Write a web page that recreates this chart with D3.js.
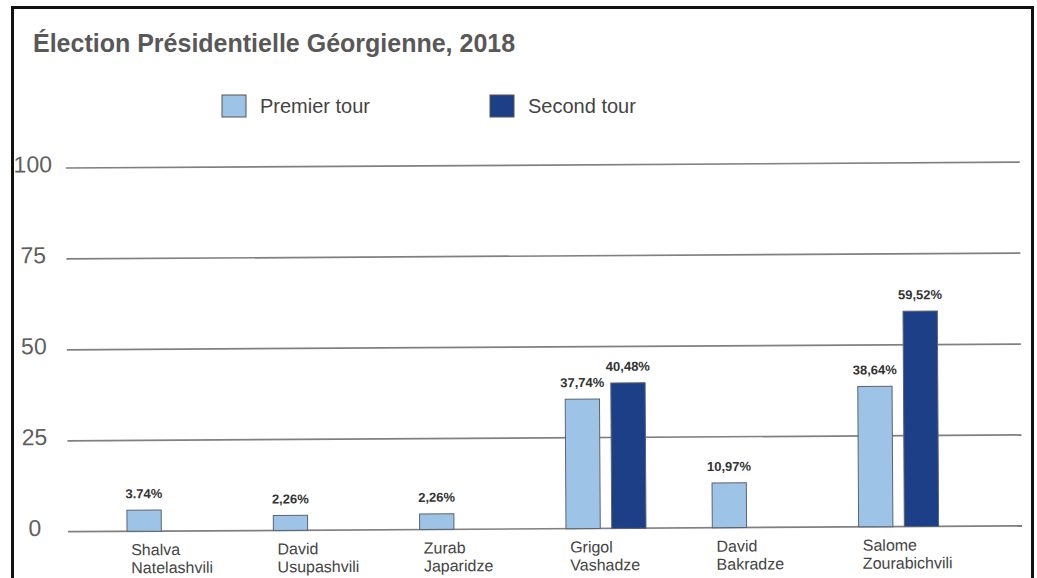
<!DOCTYPE html>
<html>
<head>
<meta charset="utf-8">
<script src="https://cdn.jsdelivr.net/npm/d3@7"></script>
<style>
  body { margin: 0; background: #fff; }
  svg { display: block; }
  text { font-family: "Liberation Sans", Arial, sans-serif; }
</style>
</head>
<body>
<div id="chart"></div>
<script>
// data
var candidates = ["Shalva Natelashvili", "David Usupashvili", "Zurab Japaridze",
                  "Grigol Vashadze", "David Bakradze", "Salome Zourabichvili"];
var premierTour = [5.8, 4.1, 4.3, 35.6, 12.3, 38.6];      // bar heights as drawn
var secondTour  = [null, null, null, 40.0, null, 59.2];
var premierLabels = ["3.74%", "2,26%", "2,26%", "37,74%", "10,97%", "38,64%"];
var secondLabels  = [null, null, null, "40,48%", null, "59,52%"];
var yTicks = [0, 25, 50, 75, 100];
var rounds = ["Premier tour", "Second tour"];
var colors = ["#9dc3e6", "#1c3f87"];

var W = 1037, H = 578;
var plot = {left: 68, right: 1022, top: 168, bottom: 531.7};

var svg = d3.select("#chart")
  .append("svg")
    .attr("width", W)
    .attr("height", H);

svg.append("rect")
  .attr("width", W).attr("height", H)
  .attr("fill", "#fff");

// frame
svg.append("rect")
  .attr("x", 12.5).attr("y", 7.5)
  .attr("width", 1020).attr("height", 620)
  .attr("fill", "none")
  .attr("stroke", "#111")
  .attr("stroke-width", 3);

// title
svg.append("text")
  .attr("x", 33).attr("y", 52)
  .attr("font-size", 25)
  .attr("font-weight", "bold")
  .attr("fill", "#585858")
  .text("Élection Présidentielle Géorgienne, 2018");

// legend
var legendX = [222, 490];
var legend = svg.selectAll(".legend")
  .data(rounds)
  .enter()
  .append("g")
    .attr("transform", function(d, i) { return "translate(" + legendX[i] + ",95)"; });
legend.append("rect")
  .attr("width", 24).attr("height", 22)
  .attr("fill", function(d, i) { return colors[i]; })
  .attr("stroke", "#555")
  .attr("stroke-width", 1);
legend.append("text")
  .attr("x", 38).attr("y", 18)
  .attr("font-size", 20)
  .attr("fill", "#444")
  .text(function(d) { return d; });

// the drawing is slightly tilted in the scan
var g = svg.append("g")
  .attr("transform", "rotate(-0.35," + plot.left + "," + plot.bottom + ")");

var x = d3.scaleBand()
  .domain(candidates)
  .range([plot.left, plot.right])
  .paddingInner(0)
  .paddingOuter(0.26);

var xRound = d3.scaleBand()
  .domain(rounds)
  .range([21, 101])
  .paddingInner(0.25);

var y = d3.scaleLinear()
  .domain([0, 100])
  .range([plot.bottom, plot.top]);

// gridlines
g.selectAll(".grid")
  .data(yTicks)
  .enter()
  .append("line")
    .attr("x1", plot.left)
    .attr("x2", plot.right)
    .attr("y1", function(d) { return y(d); })
    .attr("y2", function(d) { return y(d); })
    .attr("stroke", "#808080")
    .attr("stroke-width", 1.7);

g.selectAll(".ytick")
  .data(yTicks)
  .enter()
  .append("text")
    .attr("x", 35)
    .attr("y", function(d) { return y(d) - 2; })
    .attr("text-anchor", "middle")
    .attr("dominant-baseline", "middle")
    .attr("font-size", 23)
    .attr("fill", "#5e5e5e")
    .text(function(d) { return d; });

// bars
var bars = [];
candidates.forEach(function(c, i) {
  bars.push({name: c, round: rounds[0], value: premierTour[i], label: premierLabels[i]});
  if (secondTour[i] != null)
    bars.push({name: c, round: rounds[1], value: secondTour[i], label: secondLabels[i]});
});

var bw = xRound.bandwidth();

g.selectAll(".bar")
  .data(bars)
  .enter()
  .append("rect")
    .attr("x", function(d) { return x(d.name) + xRound(d.round); })
    .attr("y", function(d) { return y(d.value); })
    .attr("width", bw)
    .attr("height", function(d) { return y(0) - y(d.value); })
    .attr("fill", function(d) { return colors[rounds.indexOf(d.round)]; })
    .attr("stroke", "#5a6470")
    .attr("stroke-width", 1);

g.selectAll(".vlabel")
  .data(bars)
  .enter()
  .append("text")
    .attr("x", function(d) { return x(d.name) + xRound(d.round) + bw / 2; })
    .attr("y", function(d) { return y(d.value) - 12; })
    .attr("text-anchor", "middle")
    .attr("font-size", 13)
    .attr("font-weight", "bold")
    .attr("fill", "#333")
    .text(function(d) { return d.label; });

// category labels, two lines, left aligned on the first bar
[0, 1].forEach(function(line) {
  g.selectAll(".cat" + line)
    .data(candidates)
    .enter()
    .append("text")
      .attr("x", function(d) { return x(d) + xRound(rounds[0]) + 4; })
      .attr("y", y(0) + 24 + line * 18)
      .attr("font-size", 16)
      .attr("fill", "#444")
      .text(function(d) { return d.split(" ")[line]; });
});
</script>
</body>
</html>
